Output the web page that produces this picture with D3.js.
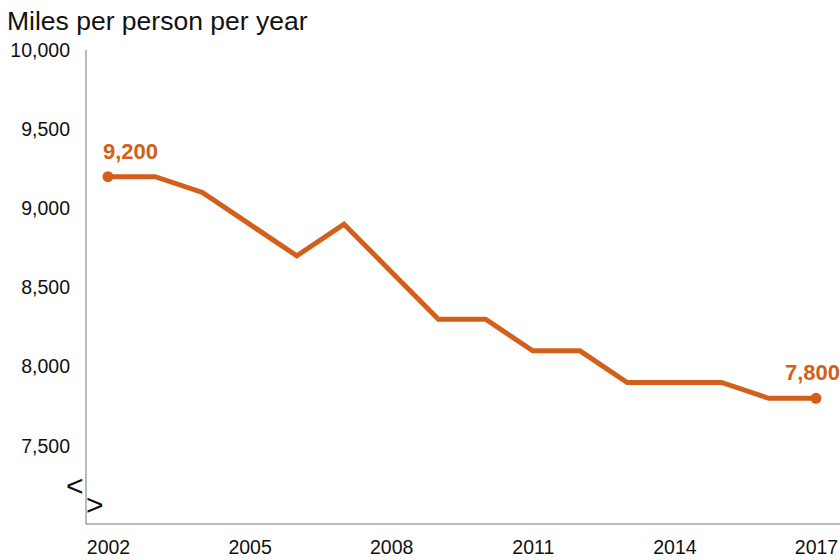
<!DOCTYPE html>
<html>
<head>
<meta charset="utf-8">
<script src="https://cdn.jsdelivr.net/npm/d3@7"></script>
<style>
  body { margin: 0; background: #fff; }
  svg { font-family: "Liberation Sans", Arial, sans-serif; }
</style>
</head>
<body>
<svg id="chart" width="840" height="560"></svg>
<script>
// data
const years = [2002, 2003, 2004, 2005, 2006, 2007, 2008, 2009, 2010, 2011, 2012, 2013, 2014, 2015, 2016, 2017];
const miles = [9200, 9200, 9100, 8900, 8700, 8900, 8600, 8300, 8300, 8100, 8100, 7900, 7900, 7900, 7800, 7800];
const yTicks = [7500, 8000, 8500, 9000, 9500, 10000];
const xTicks = [2002, 2005, 2008, 2011, 2014, 2017];
const title = "Miles per person per year";

const orange = "#d2601a";
const svg = d3.select("#chart");

const x = d3.scaleLinear().domain([2002, 2017]).range([108, 816]);
const y = d3.scaleLinear().domain([7000, 10000]).range([525, 50]);

// title
svg.append("text")
    .attr("x", 7)
    .attr("y", 30)
    .attr("font-size", 26.5)
    .attr("fill", "#111")
    .text(title);

// y axis
const yAxis = d3.axisLeft(y).tickValues(yTicks).tickSize(0).tickPadding(16)
    .tickFormat(d3.format(","));
svg.append("g")
    .attr("transform", "translate(86,0)")
    .call(yAxis)
    .call(g => g.select(".domain").attr("stroke", "#777").attr("d", "M0,50V524"))
    .call(g => g.selectAll("text").attr("font-size", 19.5).attr("fill", "#111")
        .attr("font-family", "Liberation Sans, Arial, sans-serif"));

// x axis
const xAxis = d3.axisBottom(x).tickValues(xTicks).tickSize(0).tickPadding(16)
    .tickFormat(d3.format("d"));
svg.append("g")
    .attr("transform", "translate(0,524)")
    .call(xAxis)
    .call(g => g.select(".domain").attr("stroke", "#777").attr("d", "M86,0H840"))
    .call(g => g.selectAll("text").attr("font-size", 19.5).attr("fill", "#111")
        .attr("font-family", "Liberation Sans, Arial, sans-serif"));

// axis break marks
svg.append("text").attr("x", 66).attr("y", 496).attr("font-size", 30).attr("fill", "#111").text("<");
svg.append("text").attr("x", 86).attr("y", 515).attr("font-size", 30).attr("fill", "#111").text(">");

// line
const data = years.map((yr, i) => ({ year: yr, value: miles[i] }));
const line = d3.line().x(d => x(d.year)).y(d => y(d.value));
svg.append("path")
    .datum(data)
    .attr("fill", "none")
    .attr("stroke", orange)
    .attr("stroke-width", 5)
    .attr("stroke-linejoin", "miter")
    .attr("d", line);

// end points
const ends = [data[0], data[data.length - 1]];
svg.selectAll("circle.end")
    .data(ends)
    .join("circle")
    .attr("class", "end")
    .attr("cx", d => x(d.year))
    .attr("cy", d => y(d.value))
    .attr("r", 5.5)
    .attr("fill", orange);

svg.selectAll("text.lbl")
    .data(ends)
    .join("text")
    .attr("class", "lbl")
    .attr("x", (d, i) => i === 0 ? x(d.year) - 5 : 840)
    .attr("y", d => y(d.value) - 18)
    .attr("text-anchor", (d, i) => i === 0 ? "start" : "end")
    .attr("font-size", 22)
    .attr("font-weight", "bold")
    .attr("fill", orange)
    .text(d => d3.format(",")(d.value));
</script>
</body>
</html>
